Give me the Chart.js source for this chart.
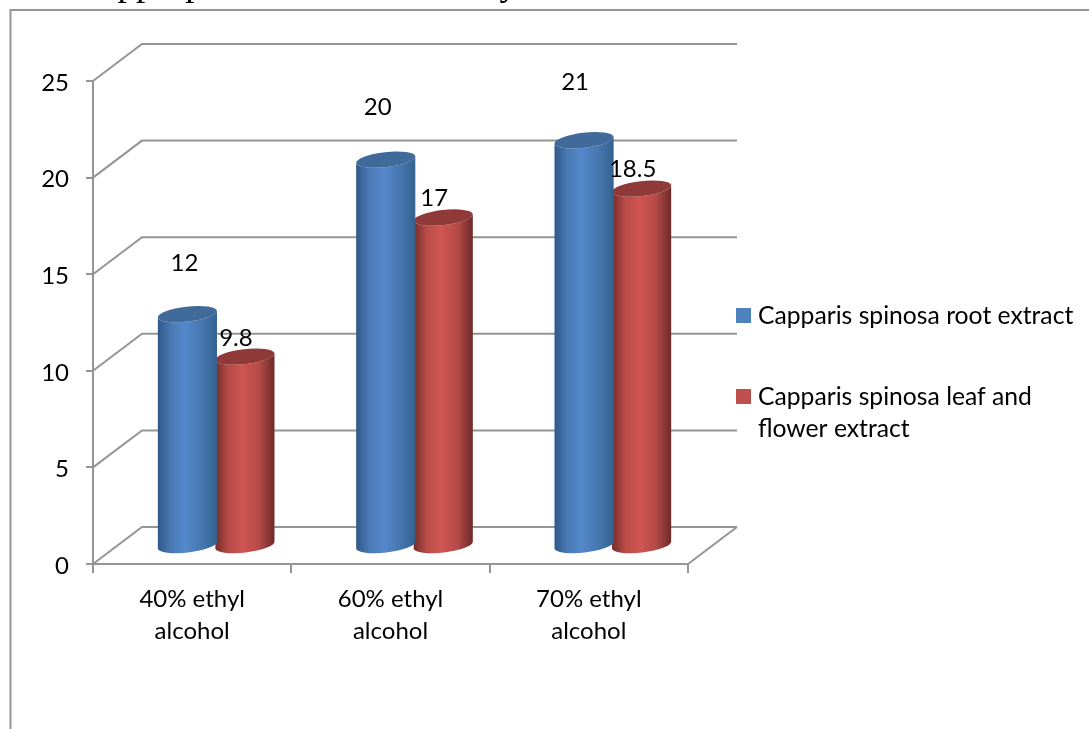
<!DOCTYPE html>
<html>
<head>
<meta charset="utf-8">
<style>
  html, body { margin: 0; padding: 0; background: #fff; }
  #wrap { position: relative; width: 1089px; height: 729px; overflow: hidden; }
  canvas { display: block; }
</style>
<script src="https://cdn.jsdelivr.net/npm/chart.js@4"></script>
</head>
<body>
<div id="wrap"><canvas id="c" width="1089" height="729"></canvas></div>
<script>
const categories = [["40% ethyl", "alcohol"], ["60% ethyl", "alcohol"], ["70% ethyl", "alcohol"]];
const rootExtract = [12, 20, 21];
const leafFlowerExtract = [9.8, 17, 18.5];
const seriesNames = ["Capparis spinosa root extract", "Capparis spinosa leaf and flower extract"];
const legendLines = [["Capparis spinosa root extract"], ["Capparis spinosa leaf and", "flower extract"]];
const yTicks = [0, 5, 10, 15, 20, 25];

const FONT = 'Lato, "Open Sans", sans-serif';
const AXIS_GREY = '#959595';

// Pseudo-3D depth of the plot box
const DEPTH_X = 49, DEPTH_Y = 37;
// Where the cylinders stand inside that depth
const STAND_X = 24, STAND_Y = 14.5;
const TILT = -0.115, RY = 7.5;

const palettes = [
  { stops: ['#2d5888', '#4a7ab4', '#5488ca', '#4677b0', '#34628f'], cap: '#3f6a99', key: '#4f81bd' },
  { stops: ['#722d2b', '#b84b48', '#cf5552', '#b54a48', '#6c2a29'], cap: '#8f3a38', key: '#c0504d' }
];
// Label placement relative to the top of each cylinder, per series then category
const labelDx = [[-3, -8, -9], [-9, -9, -9]];
const labelDy = [[-54.5, -55.5, -61.5], [-21.5, -22.5, -22.5]];

const boxWalls = {
  id: 'boxWalls',
  beforeDatasetsDraw(chart) {
    const { ctx, scales: { x, y } } = chart;
    const l = x.left, r = x.right, b = y.bottom;
    ctx.save();

    // running text of the page above the chart, cut off by the top edge
    ctx.font = '37px "Liberation Serif", serif';
    ctx.fillStyle = '#000';
    ctx.textBaseline = 'alphabetic';
    ctx.textAlign = 'left';
    ctx.fillText('appropriate', 101, -5);
    ctx.fillText('by', 481, -5);

    ctx.strokeStyle = AXIS_GREY;
    ctx.lineWidth = 2;

    // outer chart frame
    ctx.beginPath();
    ctx.moveTo(10.5, 729); ctx.lineTo(10.5, 10); ctx.lineTo(1089, 10);
    ctx.stroke();

    // side wall diagonals and back wall gridlines
    ctx.beginPath();
    yTicks.forEach(v => {
      const py = y.getPixelForValue(v);
      ctx.moveTo(l, py);
      ctx.lineTo(l + DEPTH_X, py - DEPTH_Y);
      ctx.lineTo(r + DEPTH_X, py - DEPTH_Y);
    });
    // right floor edge
    ctx.moveTo(r, b);
    ctx.lineTo(r + DEPTH_X, b - DEPTH_Y);
    ctx.stroke();
    ctx.restore();
  }
};

function drawCylinder(ctx, bar, pal) {
  const cx = bar.x + STAND_X;
  const rx = bar.width / 2 + 1;
  const topY = bar.y - STAND_Y - 3.5;
  const baseY = bar.base - STAND_Y - 3.5;
  const grad = ctx.createLinearGradient(cx - rx, 0, cx + rx, 0);
  pal.stops.forEach((c, i) => grad.addColorStop([0, 0.22, 0.46, 0.74, 1][i], c));

  ctx.beginPath();
  ctx.ellipse(cx, baseY, rx, RY, TILT, 0, Math.PI);
  ctx.ellipse(cx, topY, rx, RY, TILT, Math.PI, 0, true);
  ctx.closePath();
  ctx.fillStyle = grad;
  ctx.fill();

  ctx.beginPath();
  ctx.ellipse(cx, topY, rx, RY, TILT, 0, Math.PI * 2);
  ctx.fillStyle = pal.cap;
  ctx.fill();
}

const cylinders = {
  id: 'cylinders',
  beforeDatasetDraw(chart, args) {
    const ctx = chart.ctx;
    ctx.save();
    args.meta.data.forEach(bar => drawCylinder(ctx, bar, palettes[args.index]));
    ctx.restore();
    return false;
  }
};

const valueLabels = {
  id: 'valueLabels',
  afterDatasetsDraw(chart) {
    const ctx = chart.ctx;
    ctx.save();
    ctx.font = '24px ' + FONT;
    ctx.fillStyle = '#000';
    ctx.textAlign = 'center';
    ctx.textBaseline = 'middle';
    chart.data.datasets.forEach((ds, i) => {
      chart.getDatasetMeta(i).data.forEach((bar, j) => {
        ctx.fillText(String(ds.data[j]), bar.x + STAND_X + labelDx[i][j], bar.y - STAND_Y + labelDy[i][j]);
      });
    });
    ctx.restore();
  }
};

const sideLegend = {
  id: 'sideLegend',
  afterDraw(chart) {
    const ctx = chart.ctx;
    const rows = [316, 397];
    ctx.save();
    ctx.font = '24.7px ' + FONT;
    ctx.textBaseline = 'middle';
    ctx.textAlign = 'left';
    legendLines.forEach((lines, i) => {
      ctx.fillStyle = palettes[i].key;
      ctx.fillRect(736, rows[i] - 8, 15, 15);
      ctx.fillStyle = '#000';
      lines.forEach((t, k) => ctx.fillText(t, 758, rows[i] + k * 32));
    });
    ctx.restore();
  }
};

new Chart(document.getElementById('c'), {
  type: 'bar',
  data: {
    labels: categories,
    datasets: [
      { label: seriesNames[0], data: rootExtract, backgroundColor: palettes[0].key },
      { label: seriesNames[1], data: leafFlowerExtract, backgroundColor: palettes[1].key }
    ]
  },
  options: {
    responsive: false,
    animation: false,
    layout: { padding: { top: 81, right: 401, left: 0, bottom: 0 } },
    plugins: { legend: { display: false }, tooltip: { enabled: false }, title: { display: false } },
    datasets: { bar: { categoryPercentage: 0.58, barPercentage: 1 } },
    scales: {
      x: {
        offset: true,
        afterFit(s) { s.height = 165; },
        border: { color: AXIS_GREY, width: 2 },
        grid: { offset: true, drawOnChartArea: false, drawTicks: true, tickLength: 9, color: AXIS_GREY, lineWidth: 2 },
        ticks: { color: '#000', font: { family: FONT, size: 24, lineHeight: 1.33 }, padding: 10, maxRotation: 0 }
      },
      y: {
        min: 0, max: 25,
        afterFit(s) { s.width = 93; },
        afterBuildTicks(s) { s.ticks = yTicks.map(v => ({ value: v })); },
        border: { color: AXIS_GREY, width: 2 },
        grid: { drawOnChartArea: false, tickLength: 7, color: AXIS_GREY, lineWidth: 2 },
        ticks: { color: '#000', font: { family: FONT, size: 24 }, padding: 17, labelOffset: 2 }
      }
    }
  },
  plugins: [boxWalls, cylinders, valueLabels, sideLegend]
});
</script>
</body>
</html>
